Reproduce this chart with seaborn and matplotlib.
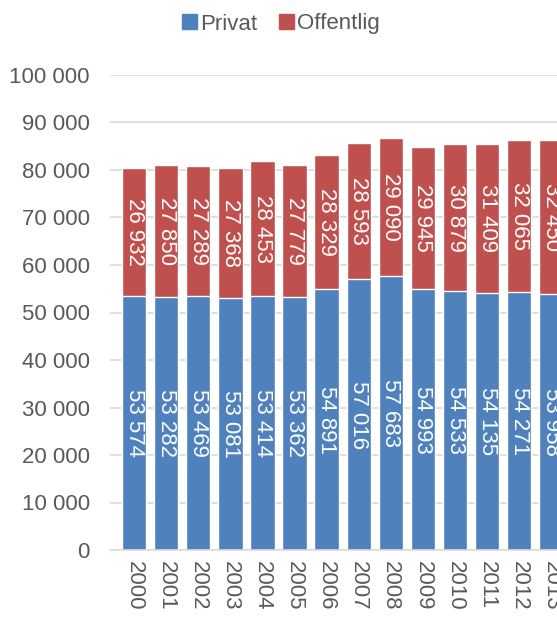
import matplotlib
matplotlib.use("Agg")
import matplotlib.pyplot as plt
import seaborn as sns
import pandas as pd
from matplotlib.patches import Patch

years = ["2000", "2001", "2002", "2003", "2004", "2005", "2006", "2007",
         "2008", "2009", "2010", "2011", "2012", "2013"]
privat = [53574, 53282, 53469, 53081, 53414, 53362, 54891, 57016,
          57683, 54993, 54533, 54135, 54271, 53958]
offentlig = [26932, 27850, 27289, 27368, 28453, 27779, 28329, 28593,
             29090, 29945, 30879, 31409, 32065, 32450]
yticks = [0, 10000, 20000, 30000, 40000, 50000, 60000, 70000, 80000, 90000, 100000]

BLUE = "#4F81BD"
RED = "#C0504D"
GREY = "#595959"

sns.set_theme(style="white")
plt.rcParams["font.family"] = ["Liberation Sans", "DejaVu Sans"]

df = pd.DataFrame({"year": years, "privat": privat, "offentlig": offentlig})
df["total"] = df["privat"] + df["offentlig"]

W, H = 557, 617
fig = plt.figure(figsize=(W / 100, H / 100), dpi=100)
slot = 32.1
x0_px = 110
xmin, xmax = -0.75, 14.5
ax_w = (xmax - xmin) * slot
ax_bottom_px = 550
ax_top_px = 75
ax = fig.add_axes([x0_px / W, (H - ax_bottom_px) / H, ax_w / W, (ax_bottom_px - ax_top_px) / H])

sns.barplot(data=df, x="year", y="total", color=RED, saturation=1, width=0.76, ax=ax)
sns.barplot(data=df, x="year", y="privat", color=BLUE, saturation=1, width=0.76, ax=ax)

for i, (p, o) in enumerate(zip(privat, offentlig)):
    ax.text(i, p / 2, f"{p:,}".replace(",", " "), rotation=-90, ha="center", va="center",
            color="white", fontsize=16)
    ax.text(i, p + o / 2, f"{o:,}".replace(",", " "), rotation=-90, ha="center", va="center",
            color="white", fontsize=16)

ax.set_xlim(xmin, xmax)
ax.set_ylim(0, 100000)
ax.set_yticks(yticks)
ax.set_yticklabels([f"{v:,}".replace(",", " ") for v in yticks], fontsize=16, color=GREY)
ax.set_xticks(range(len(years)))
ax.set_xticklabels(years, rotation=-90, fontsize=16, color=GREY, va="top")
ax.tick_params(axis="y", length=0, pad=14.5)
ax.tick_params(axis="x", length=0, pad=8)
ax.set_xlabel("")
ax.set_ylabel("")
ax.yaxis.grid(True, color="#D9D9D9", linewidth=1.2)
ax.set_axisbelow(True)
for s in ["top", "right", "left"]:
    ax.spines[s].set_visible(False)
ax.spines["bottom"].set_color("#D9D9D9")
ax.spines["bottom"].set_linewidth(1.2)

handles = [Patch(color=BLUE, label="Privat"), Patch(color=RED, label="Offentlig")]
fig.legend(handles=handles, loc="center", bbox_to_anchor=(281 / W, 1 - 24 / H), ncol=2,
           frameon=False, fontsize=16, handlelength=0.65, handleheight=0.65,
           handletextpad=0.15, columnspacing=1.0, labelcolor=GREY)

fig.savefig("out.png", dpi=100)
